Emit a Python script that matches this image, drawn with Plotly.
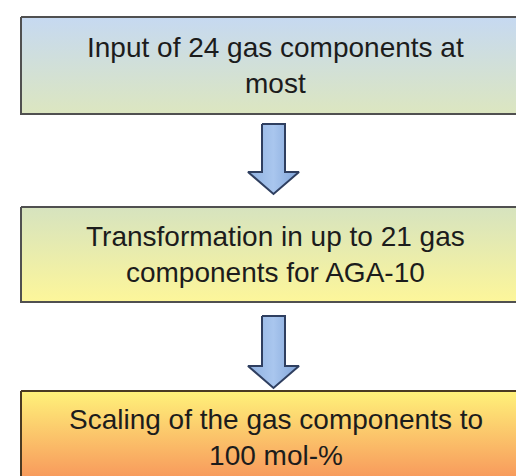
import plotly.graph_objects as go

# Flowchart content
step_texts = [
    "Input of 24 gas components at<br>most",
    "Transformation in up to 21 gas<br>components for AGA-10",
    "Scaling of the gas components to<br>100 mol-%",
]
step_top_colors = ["#c6d9f1", "#d6e3bf", "#fff27a"]
step_bottom_colors = ["#dce6c0", "#fdf69a", "#f7945a"]
step_border_colors = ["#505050", "#505050", "#4a3a22"]

# layout geometry (pixel coordinates, y downward)
BOX_X0, BOX_X1 = 13, 522
box_y = [(9, 106), (199, 294), (383, 475)]
arrow_y = [(116, 164, 186), (308, 358, 380)]  # shaft top, shoulder, tip
SHAFT_X0, SHAFT_X1 = 254, 277
HEAD_X0, HEAD_X1 = 240, 291

fig = go.Figure()

for i, text in enumerate(step_texts):
    y0, y1 = box_y[i]
    fig.add_trace(go.Scatter(
        x=[BOX_X0, BOX_X1, BOX_X1, BOX_X0, BOX_X0],
        y=[y0, y0, y1, y1, y0],
        mode="lines", fill="toself",
        line=dict(color=step_border_colors[i], width=2),
        fillgradient=dict(type="vertical", start=y0, stop=y1,
                          colorscale=[[0, step_top_colors[i]], [1, step_bottom_colors[i]]]),
        hoverinfo="skip", showlegend=False,
    ))
    fig.add_annotation(
        x=(BOX_X0 + BOX_X1) / 2, y=(y0 + y1) / 2, text=text, showarrow=False,
        xref="x", yref="y", xanchor="center", yanchor="middle", align="center",
        font=dict(family="Liberation Sans, Arial, sans-serif", size=28, color="#1c1c1c"),
    )

cx = (HEAD_X0 + HEAD_X1) / 2
for (ys, yh, yt) in arrow_y:
    fig.add_trace(go.Scatter(
        x=[SHAFT_X0, SHAFT_X1, SHAFT_X1, HEAD_X1, cx, HEAD_X0, SHAFT_X0, SHAFT_X0],
        y=[ys, ys, yh, yh, yt, yh, yh, ys],
        mode="lines", fill="toself",
        line=dict(color="#2f3f60", width=2),
        fillgradient=dict(type="horizontal", start=HEAD_X0, stop=HEAD_X1,
                          colorscale=[[0, "#8fb1e0"], [0.5, "#a9c6ee"], [1, "#7fa3d8"]]),
        hoverinfo="skip", showlegend=False,
    ))

fig.update_layout(
    width=524, height=476,
    margin=dict(l=0, r=0, t=0, b=0),
    paper_bgcolor="white", plot_bgcolor="white",
    xaxis=dict(range=[0, 524], visible=False, fixedrange=True),
    yaxis=dict(range=[476, 0], visible=False, fixedrange=True),
)

fig.write_html("out.html", config={"displayModeBar": False})
